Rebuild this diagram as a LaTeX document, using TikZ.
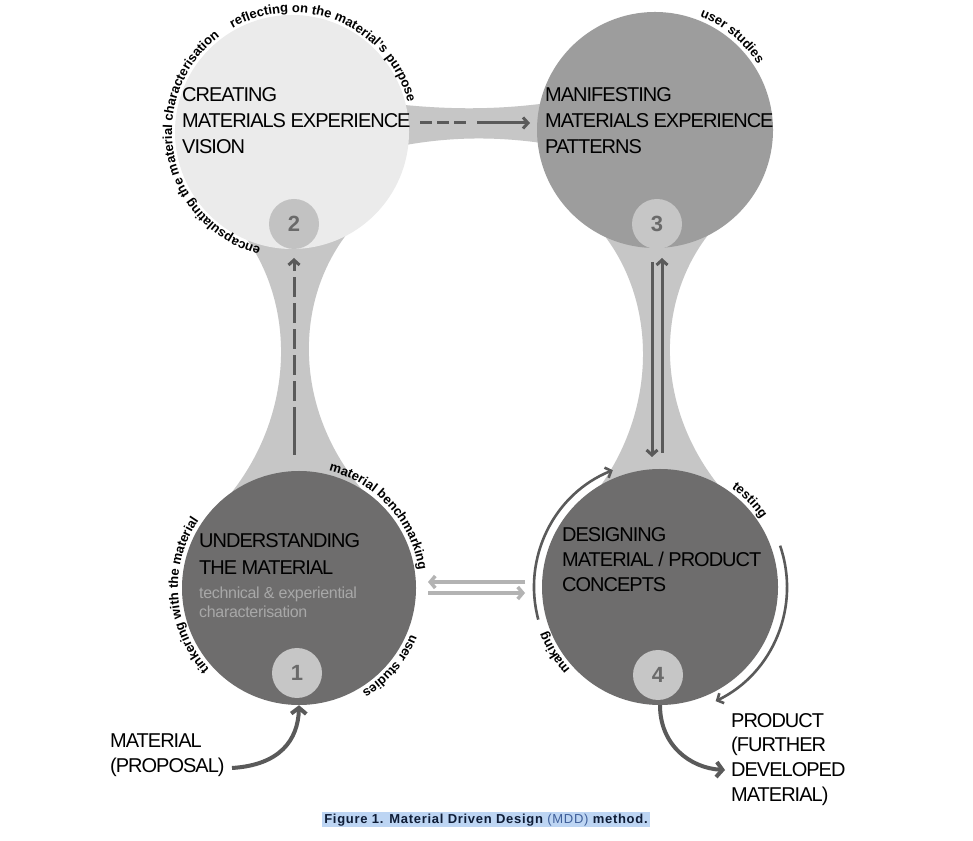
\documentclass[tikz,border=0pt]{standalone}
\usepackage{fontspec}
\setmainfont{Liberation Sans}
\newfontfamily\tfont[LetterSpace=-5]{Liberation Sans}
\newfontfamily\sfont[LetterSpace=-2]{Liberation Sans}
\newfontfamily\cfont[LetterSpace=5.5]{Liberation Sans}
\usetikzlibrary{arrows.meta,decorations.text,calc}
\definecolor{lightc}{HTML}{EBEBEB}
\definecolor{midc}{HTML}{9D9D9D}
\definecolor{darkc}{HTML}{6E6D6D}
\definecolor{connc}{HTML}{C6C6C6}
\definecolor{badgec}{HTML}{C6C6C6}
\definecolor{badgeb}{HTML}{C2C2C2}
\definecolor{numc}{HTML}{6A6A6A}
\definecolor{arrowc}{HTML}{5A5A5A}
\definecolor{lightarrow}{HTML}{B3B3B3}
\definecolor{subc}{HTML}{A8A8A8}
\definecolor{hlc}{HTML}{BDD5F3}
\definecolor{capc}{HTML}{0E1C36}
\definecolor{mddc}{HTML}{3F5F99}
\newcommand\arcfmt{\fontsize{13}{15}\selectfont\bfseries}
\newcommand\myarctext[4]{%
  \pgfmathsetmacro\myA{#2+80}\pgfmathsetmacro\myB{#2-80}%
  \path[decorate, decoration={text along path, text align=center, text={|\arcfmt|#4}}]
    ($(#1)+(\myA:#3)$) arc[start angle=\myA, end angle=\myB, radius=#3];}
\begin{document}
\begin{tikzpicture}[x=1pt,y=1pt,
  bigcirc/.style={circle, inner sep=0pt, minimum size=236pt},
  badge/.style={circle, inner sep=0pt, minimum size=50pt, fill=badgec, text=numc, font=\fontsize{22}{24}\selectfont\bfseries},
  title/.style={anchor=base west, inner sep=0pt, text=black, font=\tfont\fontsize{20}{24}\selectfont},
  subtitle/.style={anchor=base west, inner sep=0pt, text=subc, font=\sfont\fontsize{16}{19}\selectfont},
  darrow/.style={draw=arrowc, line width=3pt, -{Straight Barb[length=5pt,width=11pt]}},
  larrow/.style={draw=lightarrow, line width=3.5pt, -{Straight Barb[length=5pt,width=12pt]}},
  thickarrow/.style={draw=arrowc, line width=4pt, -{Straight Barb[length=6pt,width=15pt]}},
  arcarrow/.style={draw=arrowc, line width=2.6pt, -{Straight Barb[length=5pt,width=11pt]}}
]
\useasboundingbox (0,0) rectangle (973,840);
\fill[white] (0,0) rectangle (973,840);

% connector bands
\fill[connc] (395,736) .. controls (450,730) and (500,730) .. (555,738) -- (555,695) .. controls (500,704) and (450,704) .. (395,693) -- cycle;
\fill[connc] (240,610) .. controls (296,540) and (296,430) .. (232,348) -- (364,348) .. controls (293,430) and (293,540) .. (350,610) -- cycle;
\fill[connc] (600,610) .. controls (658,540) and (658,430) .. (596,348) -- (724,348) .. controls (654,430) and (654,540) .. (712,610) -- cycle;

% circles
\node[bigcirc, fill=lightc, minimum size=234pt] (C2) at (292,708) {};
\node[bigcirc, fill=midc] (C3) at (655,710) {};
\node[bigcirc, fill=darkc, minimum size=234pt] (C1) at (299,252) {};
\node[bigcirc, fill=darkc] (C4) at (660,253) {};

% badges
\node[badge, fill=badgeb] (B2) at (294,616) {2};
\node[badge] (B3) at (657,616) {3};
\node[badge] (B1) at (297,167) {1};
\node[badge] (B4) at (658,165) {4};

% titles
\node[title] (t2a) at (182,738) {CREATING};
\node[title] (t2b) at (182,712) {MATERIALS EXPERIENCE};
\node[title] (t2c) at (182,686) {VISION};
\node[title] (t3a) at (545,738) {MANIFESTING};
\node[title] (t3b) at (545,712) {MATERIALS EXPERIENCE};
\node[title] (t3c) at (545,686) {PATTERNS};
\node[title] (t1a) at (199,292) {UNDERSTANDING};
\node[title] (t1b) at (199,265) {THE MATERIAL};
\node[subtitle] (s1a) at (199,241) {technical \& experiential};
\node[subtitle] (s1b) at (199,222) {characterisation};
\node[title] (t4a) at (562,298) {DESIGNING};
\node[title] (t4b) at (562,273) {MATERIAL / PRODUCT};
\node[title] (t4c) at (562,248) {CONCEPTS};
\node[title] (m1) at (110,93) {MATERIAL};
\node[title] (m2) at (110,68) {(PROPOSAL)};
\node[title] (p1) at (731,113) {PRODUCT};
\node[title] (p2) at (731,89) {(FURTHER};
\node[title] (p3) at (731,64) {DEVELOPED};
\node[title] (p4) at (731,39) {MATERIAL)};

% arc texts
\myarctext{C2.center}{67}{119.5pt}{reflecting on the material's purpose}
\myarctext{C2.center}{191}{120pt}{encapsulating the material characterisation}
\myarctext{C3.center}{50.5}{122pt}{user studies}
\myarctext{C1.center}{42}{121pt}{material benchmarking}
\myarctext{C1.center}{184}{121pt}{tinkering with the material}
\myarctext{C1.center}{-40.5}{121pt}{user studies}
\myarctext{C4.center}{44}{122pt}{testing}
\myarctext{C4.center}{212}{122pt}{making}

% arrows
\coordinate (h1) at (420,717); \coordinate (h2) at (530,717);
\draw[darrow, dash pattern=on 12pt off 5pt on 12pt off 5pt on 12pt off 11pt on 80pt off 10pt] (h1) -- (h2);
\coordinate (v1) at (294,385); \coordinate (v2) at (294,582);
\draw[darrow, dash pattern=on 48pt off 6pt on 20pt off 6pt on 20pt off 6pt on 20pt off 6pt on 20pt off 6pt on 20pt off 6pt on 40pt off 6pt] (v1) -- (v2);
\coordinate (d1) at (652,578); \coordinate (d2) at (652,383);
\draw[darrow] (d1) -- (d2);
\coordinate (u1) at (662,387); \coordinate (u2) at (662,582);
\draw[darrow] (u1) -- (u2);
\coordinate (l1) at (525,258); \coordinate (l2) at (428,258);
\draw[larrow] (l1) -- (l2);
\coordinate (r1) at (428,247); \coordinate (r2) at (525,247);
\draw[larrow] (r1) -- (r2);
\coordinate (ka) at ($(C4.center)+(195:126pt)$);
\draw[arcarrow] (ka) arc[start angle=195, end angle=112, radius=126pt];
\coordinate (kb) at ($(C4.center)+(19:127pt)$);
\draw[arcarrow] (kb) arc[start angle=19, end angle=-64, radius=127pt];
\coordinate (ms) at (232,72);
\draw[thickarrow] (ms) .. controls (280,75) and (298,100) .. (C1.south);
\coordinate (pe) at (725,70);
\draw[thickarrow] (C4.south) .. controls (660,95) and (690,72) .. (pe);

% caption
\node[fill=hlc, inner xsep=2pt, inner ysep=1pt, text height=10pt, text depth=3pt, text=capc, font=\cfont\fontsize{13}{15}\selectfont] (cap) at (486,20.5)
  {\bfseries Figure 1. Material Driven Design \mdseries\textcolor{mddc}{(MDD)} \bfseries method.};
\end{tikzpicture}
\end{document}
